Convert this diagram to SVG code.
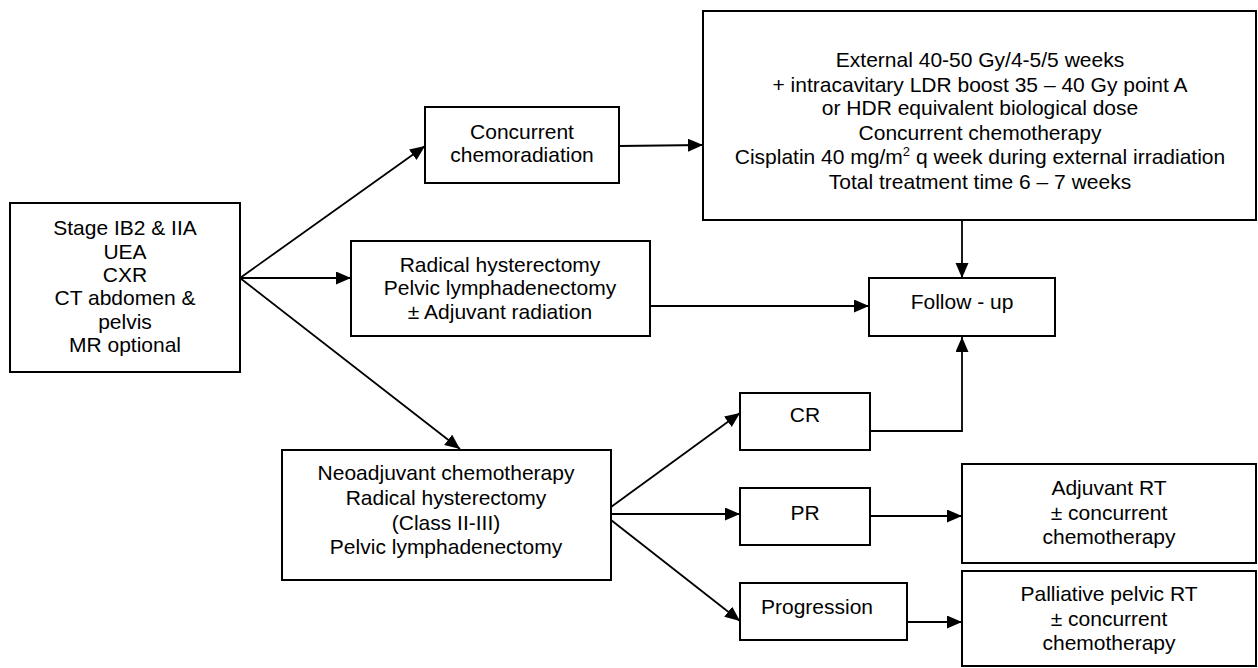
<svg xmlns="http://www.w3.org/2000/svg" width="1258" height="668" viewBox="0 0 1258 668">
<style>
.box{fill:#fff;stroke:#000;stroke-width:2}
.t{font-family:"Liberation Sans",Arial,sans-serif;font-size:21px;fill:#000;text-anchor:middle}
.c{fill:none;stroke:#000;stroke-width:1.8}
</style>
<defs>
<marker id="ah" markerUnits="userSpaceOnUse" markerWidth="16" markerHeight="14" refX="15" refY="6.5" orient="auto">
<path d="M0,0 L15,6.5 L0,13 z" fill="#000"/>
</marker>
</defs>
<rect width="1258" height="668" fill="#fff"/>
<g id="connectors">
<line class="c" x1="240" y1="278" x2="425" y2="146" marker-end="url(#ah)"/>
<line class="c" x1="240" y1="278" x2="351" y2="278" marker-end="url(#ah)"/>
<line class="c" x1="240" y1="278" x2="460" y2="449" marker-end="url(#ah)"/>
<line class="c" x1="619" y1="146" x2="703" y2="145" marker-end="url(#ah)"/>
<line class="c" x1="962" y1="220" x2="962" y2="278" marker-end="url(#ah)"/>
<line class="c" x1="650" y1="306" x2="869" y2="306" marker-end="url(#ah)"/>
<polyline class="c" points="870,431 962,431 962,337" marker-end="url(#ah)"/>
<line class="c" x1="611" y1="507" x2="740" y2="413" marker-end="url(#ah)"/>
<line class="c" x1="611" y1="514" x2="740" y2="514" marker-end="url(#ah)"/>
<line class="c" x1="611" y1="520" x2="740" y2="621" marker-end="url(#ah)"/>
<line class="c" x1="870" y1="516" x2="962" y2="516" marker-end="url(#ah)"/>
<line class="c" x1="907" y1="622" x2="962" y2="622" marker-end="url(#ah)"/>
</g>
<g id="stage">
<rect class="box" x="10" y="203" width="230" height="169"/>
<text class="t" x="125" y="235">Stage IB2 &amp; IIA</text>
<text class="t" x="125" y="259">UEA</text>
<text class="t" x="125" y="282">CXR</text>
<text class="t" x="125" y="305">CT abdomen &amp;</text>
<text class="t" x="125" y="329">pelvis</text>
<text class="t" x="125" y="352">MR optional</text>
</g>
<g id="concurrent">
<rect class="box" x="425" y="107" width="194" height="76"/>
<text class="t" x="522" y="139">Concurrent</text>
<text class="t" x="522" y="162">chemoradiation</text>
</g>
<g id="regimen">
<rect class="box" x="703" y="11" width="553" height="209"/>
<text class="t" x="980" y="67">External 40-50 Gy/4-5/5 weeks</text>
<text class="t" x="980" y="92">+ intracavitary LDR boost 35 – 40 Gy point A</text>
<text class="t" x="980" y="115">or HDR equivalent biological dose</text>
<text class="t" x="980" y="140">Concurrent chemotherapy</text>
<text class="t" x="980" y="164">Cisplatin 40 mg/m<tspan font-size="13" dy="-8">2</tspan><tspan dy="8"> q week during external irradiation</tspan></text>
<text class="t" x="980" y="189">Total treatment time 6 – 7 weeks</text>
</g>
<g id="radical">
<rect class="box" x="351" y="241" width="299" height="95"/>
<text class="t" x="500" y="272">Radical hysterectomy</text>
<text class="t" x="500" y="295">Pelvic lymphadenectomy</text>
<text class="t" x="500" y="319">± Adjuvant radiation</text>
</g>
<g id="followup">
<rect class="box" x="869" y="278" width="186" height="58"/>
<text class="t" x="962" y="309">Follow - up</text>
</g>
<g id="neoadjuvant">
<rect class="box" x="282" y="450" width="329" height="130"/>
<text class="t" x="446" y="480">Neoadjuvant chemotherapy</text>
<text class="t" x="446" y="505">Radical hysterectomy</text>
<text class="t" x="446" y="530">(Class II-III)</text>
<text class="t" x="446" y="554">Pelvic lymphadenectomy</text>
</g>
<g id="cr">
<rect class="box" x="740" y="393" width="130" height="57"/>
<text class="t" x="805" y="422">CR</text>
</g>
<g id="pr">
<rect class="box" x="740" y="488" width="130" height="57"/>
<text class="t" x="805" y="520">PR</text>
</g>
<g id="progression">
<rect class="box" x="740" y="583" width="167" height="57"/>
<text class="t" x="817" y="614">Progression</text>
</g>
<g id="adjuvant">
<rect class="box" x="962" y="464" width="294" height="99"/>
<text class="t" x="1109" y="495">Adjuvant RT</text>
<text class="t" x="1109" y="520">± concurrent</text>
<text class="t" x="1109" y="544">chemotherapy</text>
</g>
<g id="palliative">
<rect class="box" x="962" y="571" width="294" height="95"/>
<text class="t" x="1109" y="601">Palliative pelvic RT</text>
<text class="t" x="1109" y="626">± concurrent</text>
<text class="t" x="1109" y="650">chemotherapy</text>
</g>
</svg>
